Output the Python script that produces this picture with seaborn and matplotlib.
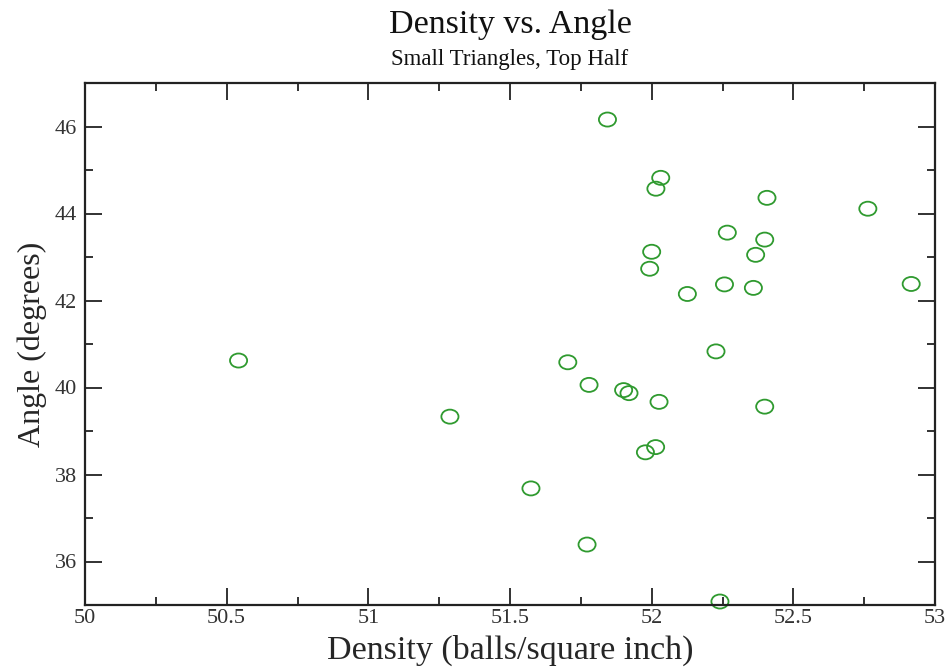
import numpy as np
import pandas as pd
import matplotlib
matplotlib.use("Agg")
import matplotlib.pyplot as plt
from matplotlib.path import Path
from matplotlib.ticker import MultipleLocator
import seaborn as sns

density = [51.844, 52.032, 52.015, 52.407, 52.763, 52.267, 52.399, 52.367, 52.000,
           51.993, 52.257, 52.359, 52.126, 52.916, 52.227, 51.704, 51.779, 51.901,
           51.920, 52.026, 52.399, 51.288, 52.014, 51.978, 51.574, 51.772, 52.241,
           50.542]
angle = [46.16, 44.82, 44.57, 44.36, 44.11, 43.56, 43.40, 43.05, 43.12,
         42.73, 42.37, 42.29, 42.15, 42.38, 40.83, 40.58, 40.06, 39.94,
         39.87, 39.67, 39.56, 39.33, 38.63, 38.51, 37.68, 36.39, 35.08,
         40.62]
x_ticks = [50, 50.5, 51, 51.5, 52, 52.5, 53]
x_tick_labels = ["50", "50.5", "51", "51.5", "52", "52.5", "53"]
y_ticks = [36, 38, 40, 42, 44, 46]

df = pd.DataFrame({"density": density, "angle": angle})

sns.set_style("ticks")
plt.rcParams["font.family"] = ["Liberation Serif", "DejaVu Serif"]

fig = plt.figure(figsize=(9.5, 6.71), dpi=100)
ax = fig.add_axes([85 / 950, 1 - 605 / 671, 850 / 950, 522 / 671])

circ = Path.unit_circle()
ell = Path(circ.vertices * np.array([1.0, 0.82]), circ.codes)

sns.scatterplot(data=df, x="density", y="angle", ax=ax, marker=ell, s=152,
                facecolor="none", edgecolor="#2f9a2f", linewidth=1.3, clip_on=False)

ax.set_xlim(50, 53)
ax.set_ylim(35, 47)
ax.xaxis.set_minor_locator(MultipleLocator(0.25))
ax.yaxis.set_minor_locator(MultipleLocator(1))
ax.set_xticks(x_ticks)
ax.set_xticklabels(x_tick_labels)
ax.set_yticks(y_ticks)
ax.tick_params(which="both", direction="in", top=True, right=True, width=1.3,
               colors="#222222", labelcolor="#333333")
ax.tick_params(which="major", length=12, labelsize=16, pad=6)
ax.tick_params(axis="x", which="major", pad=3)
ax.tick_params(which="minor", length=6)
for sp in ax.spines.values():
    sp.set_linewidth(1.6)
    sp.set_color("#222222")

ax.set_xlabel("Density (balls/square inch)", fontsize=24.5, va="baseline")
ax.xaxis.set_label_coords(0.5, (605 - 659) / 522)
ax.set_ylabel("Angle (degrees)", fontsize=23, va="center")
ax.yaxis.set_label_coords((32 - 85) / 850, 0.5)

fig.text(510 / 950, 1 - 25 / 671, "Density vs. Angle", ha="center", va="center",
         fontsize=24.5, color="#111111")
fig.text(510 / 950, 1 - 60 / 671, "Small Triangles, Top Half", ha="center",
         va="center", fontsize=16.5, color="#111111")

fig.savefig("out.png", dpi=100)
